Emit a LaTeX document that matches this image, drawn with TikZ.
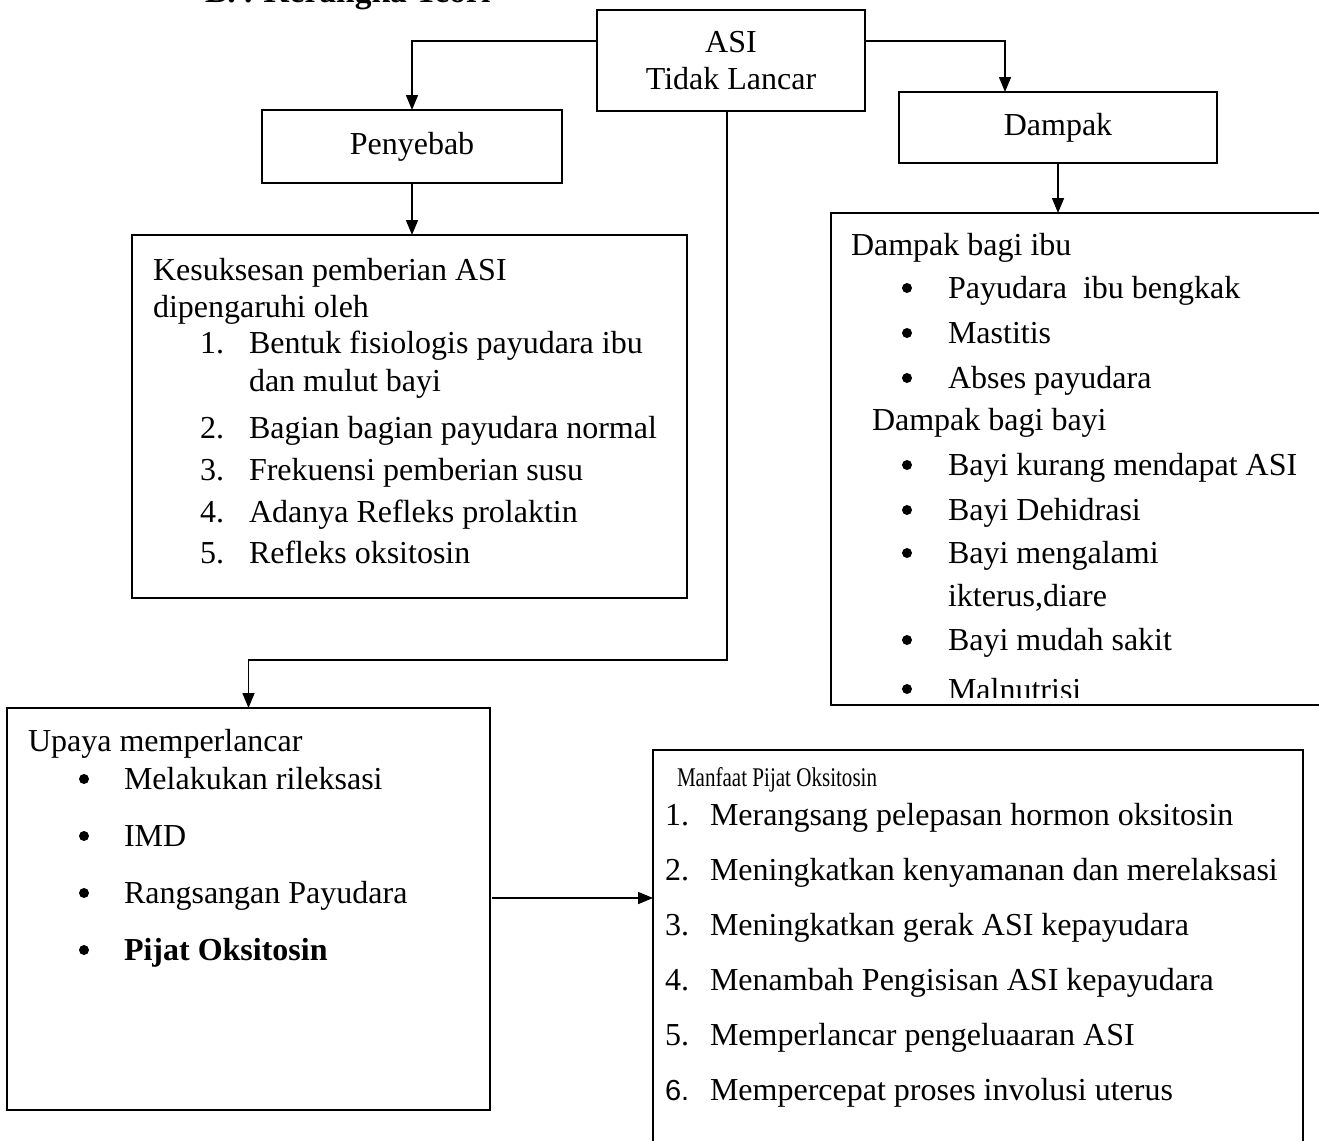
\documentclass[tikz,border=0pt]{standalone}
\usepackage{fontspec}
\setmainfont{Liberation Serif}
\newfontfamily\numsans{Liberation Sans}
\newfontfamily\headnarrow[FakeStretch=0.78]{Liberation Serif}
\usetikzlibrary{arrows.meta,positioning}

\begin{document}
\begin{tikzpicture}[x=1pt,y=-1pt,>={Triangle[length=15pt,width=12pt]},line width=1.6pt,
every node/.style={font=\fontsize{32}{37}\selectfont,inner sep=0pt,outer sep=0pt},
box/.style={draw,line width=1.6pt,align=center},
txt/.style={anchor=base west},
bul/.style={circle,fill,minimum size=10pt}]
\useasboundingbox (0,0) rectangle (1319,1140);
\clip (0,0) rectangle (1319,1140);
\node[txt,font=\fontsize{33.5}{38}\selectfont\bfseries] (judul) at (205,3) {B. . Kerangka Teori};
% kotak-kotak
\node[box,minimum width=268pt,minimum height=101pt] (asi) at (731,60.5) {ASI\\Tidak Lancar};
\node[box,minimum width=300pt,minimum height=73pt] (pen) at (412,146.5) {Penyebab};
\node[box,minimum width=318pt,minimum height=71pt] (dam) at (1058,127.5) {Dampak};
\node[box,minimum width=555pt,minimum height=363pt] (kes) at (409.5,416.5) {};
\node[box,minimum width=499pt,minimum height=492pt] (dbox) at (1080.5,459) {};
\node[box,minimum width=483pt,minimum height=402pt] (upa) at (248.5,909) {};
\node[box,minimum width=650pt,minimum height=400pt] (man) at (978,950) {};
% penyebab
\node[txt] (kes1) at (153,280) {Kesuksesan pemberian ASI};
\node[txt] (kes2) at (153,317) {dipengaruhi oleh};
\foreach \n/\t/\y in {1/{Bentuk fisiologis payudara ibu}/353,2/{Bagian bagian payudara normal}/438,
  3/{Frekuensi pemberian susu}/480,4/{Adanya Refleks prolaktin}/522,5/{Refleks oksitosin}/563}{
  \node[txt] (kn\n) at (200,\y) {\n.};
  \node[txt] (kt\n) at (249,\y) {\t};
}
\node[txt] (kt1b) at (249,391) {dan mulut bayi};
% dampak
\node[txt] (ibu) at (851,255) {Dampak bagi ibu};
\foreach \n/\t/\y in {1/{Payudara\ \ ibu bengkak}/298,2/{Mastitis}/343,3/{Abses payudara}/388}{
  \node[bul] (ib\n) at (907,\y-10) {};
  \node[txt] (it\n) at (948,\y) {\t};
}
\node[txt] (bayi) at (872,430) {Dampak bagi bayi};
\foreach \n/\t/\y in {1/{Bayi kurang mendapat ASI}/475,2/{Bayi Dehidrasi}/520,
  3/{Bayi mengalami}/563,4/{Bayi mudah sakit}/650}{
  \node[bul] (bb\n) at (907,\y-10) {};
  \node[txt] (bt\n) at (948,\y) {\t};
}
\node[txt] (bt3b) at (948,606) {ikterus,diare};
\node[bul] (bb5) at (907,689) {};
\begin{scope}
\clip (831,213) rectangle (1319,697);
\node[txt] (bt5) at (948,700) {Malnutrisi};
\end{scope}
% upaya
\node[txt] (upa0) at (28,751) {Upaya memperlancar};
\foreach \n/\t/\y in {1/{Melakukan rileksasi}/789,2/{IMD}/846,3/{Rangsangan Payudara}/903,4/{\bfseries Pijat Oksitosin}/960}{
  \node[bul] (ub\n) at (84,\y-10) {};
  \node[txt] (ut\n) at (124,\y) {\t};
}
% manfaat
\node[txt,font=\fontsize{27}{32}\headnarrow] (man0) at (677,786) {Manfaat Pijat Oksitosin};
\foreach \n/\t/\y in {1/{Merangsang pelepasan hormon oksitosin}/825,2/{Meningkatkan kenyamanan dan merelaksasi}/880,
  3/{Meningkatkan gerak ASI kepayudara}/935,4/{Menambah Pengisisan ASI kepayudara}/990,
  5/{Memperlancar pengeluaaran ASI}/1045}{
  \node[txt] (mn\n) at (665,\y) {\n.};
  \node[txt] (mt\n) at (710,\y) {\t};
}
\node[txt,font=\fontsize{29}{35}\numsans] (mn6) at (665,1100) {6.};
\node[txt] (mt6) at (710,1100) {Mempercepat proses involusi uterus};
% panah
\draw[->] ([yshift=19.5pt]asi.west) -| (pen.north);
\draw[->] ([yshift=19.5pt]asi.east) -| ([xshift=-53pt]dam.north);
\draw[->] (dam.south) -- (dam.south|-dbox.north);
\draw[->] (pen.south) -- (pen.south|-kes.north);
\coordinate (belok) at (727,660);
\draw[->] ([xshift=-4pt]asi.south) -- (belok) -| (upa.north);
\draw[->] ([yshift=11pt,xshift=2pt]upa.east) -- ([yshift=52pt]man.west);
\end{tikzpicture}
\end{document}
